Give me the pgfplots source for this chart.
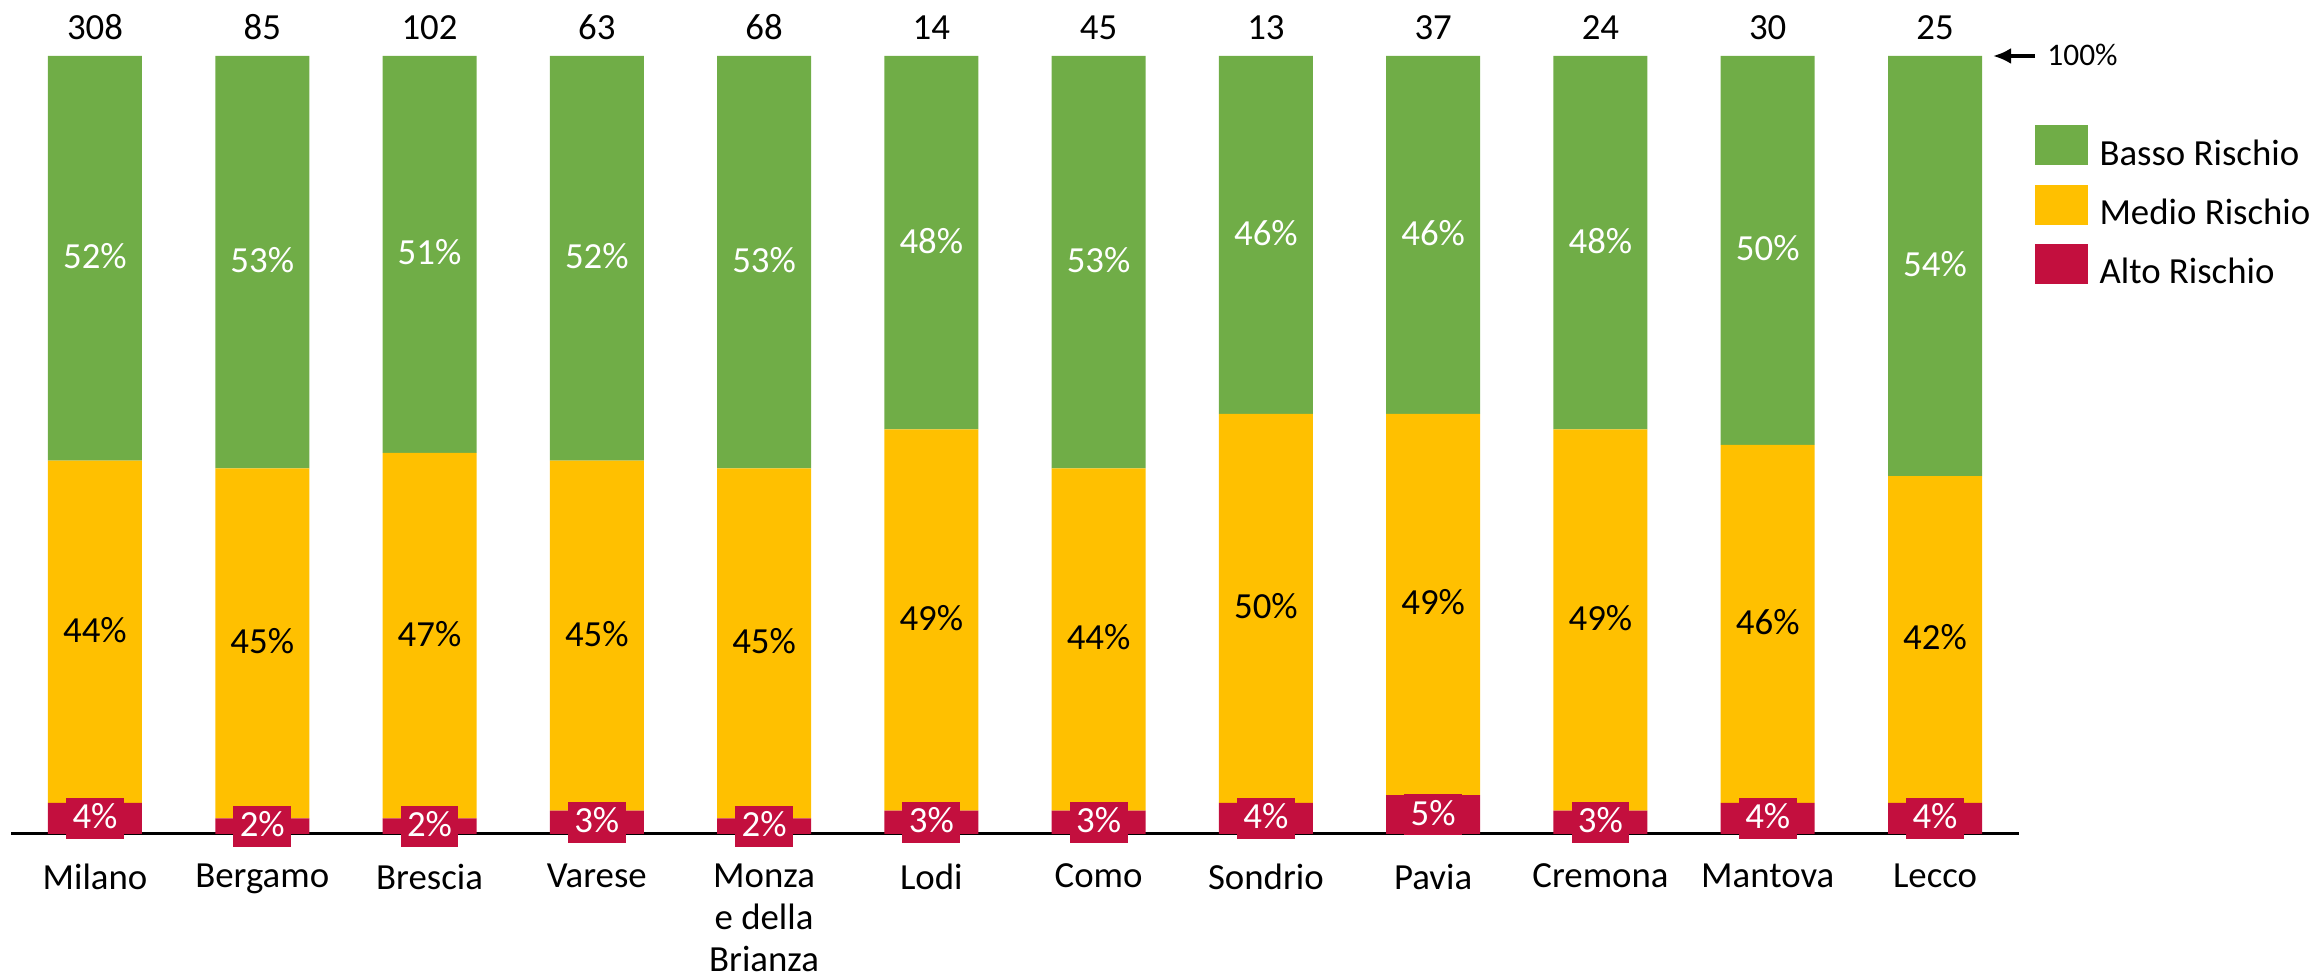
\documentclass[border=0pt]{standalone}
\usepackage{fontspec}
\setmainfont{Carlito}
\usepackage{pgfplots}
\usepackage{pgfplotstable}
\pgfplotsset{compat=1.18}
\usetikzlibrary{arrows.meta}
\definecolor{basso}{HTML}{70AD47}
\definecolor{medio}{HTML}{FFC000}
\definecolor{alto}{HTML}{C30F3E}

\pgfplotstableread{
x alto medio basso n
0 4 44 52 308
1 2 45 53 85
2 2 47 51 102
3 3 45 52 63
4 2 45 53 68
5 3 49 48 14
6 3 44 53 45
7 4 50 46 13
8 5 49 46 37
9 3 49 48 24
10 4 46 50 30
11 4 42 54 25
}\datatable

\tikzset{
  lab/.style={inner xsep=3.2pt, inner ysep=3pt, text height=12.5pt, text depth=2pt, font=\fontsize{18.4}{21}\selectfont},
  cnt/.style={anchor=base, yshift=8pt, inner sep=0pt, font=\fontsize{18.4}{21}\selectfont},
}

\begin{document}
\begin{tikzpicture}[font=\fontsize{18.4}{21}\selectfont]
\useasboundingbox (0,0) rectangle (1158pt,486.5pt);
\begin{axis}[
  at={(5.675pt,69.5pt)}, anchor=south west,
  scale only axis, width=1003.65pt, height=389pt,
  ybar stacked, bar width=47pt,
  xmin=-0.5, xmax=11.5, ymin=0, ymax=100,
  axis line style={draw=none}, major tick length=0pt, ytick=\empty,
  xtick={0,...,11},
  xticklabels={Milano,Bergamo,Brescia,Varese,{Monza\\e della\\Brianza},Lodi,Como,Sondrio,Pavia,Cremona,Mantova,Lecco},
  xticklabel style={anchor=north, align=center, inner sep=0pt, yshift=-14.8pt, font=\fontsize{18.4}{21}\selectfont},
  clip=false,
  reverse legend,
  legend image code/.code={\fill[#1] (0pt,-4.4pt) rectangle (26.5pt,15.6pt);},
  legend style={at={(1.0077,0.9113)}, anchor=north west, draw=none, fill=none,
    inner sep=0pt, row sep=5.5pt, column sep=6pt, cells={anchor=west},
    nodes={inner sep=0pt, text height=13pt, text depth=4pt, font=\fontsize{18.4}{21}\selectfont}},
]
\addplot[fill=alto, draw=none] table[x=x,y=alto]{\datatable};
\addlegendentry{Alto Rischio}
\addplot[fill=medio, draw=none] table[x=x,y=medio]{\datatable};
\addlegendentry{Medio Rischio}
\addplot[fill=basso, draw=none] table[x=x,y=basso]{\datatable};
\addlegendentry{Basso Rischio}

\draw[line width=1.5pt] (axis cs:-0.5,0) -- (axis cs:11.5,0);

\pgfplotsforeachungrouped \i in {0,...,11}{%
  \pgfplotstablegetelem{\i}{alto}\of\datatable \let\va\pgfplotsretval
  \pgfplotstablegetelem{\i}{medio}\of\datatable \let\vm\pgfplotsretval
  \pgfplotstablegetelem{\i}{basso}\of\datatable \let\vb\pgfplotsretval
  \pgfmathsetmacro\ya{\va/2}%
  \pgfmathsetmacro\ym{\va+\vm/2}%
  \pgfmathsetmacro\yb{\va+\vm+\vb/2}%
  \edef\temp{%
    \noexpand\coordinate (pa\i) at (axis cs:\i,\ya);
    \noexpand\coordinate (pm\i) at (axis cs:\i,\ym);
    \noexpand\coordinate (pb\i) at (axis cs:\i,\yb);
    \noexpand\coordinate (pc\i) at (axis cs:\i,100);
  }\temp
}
\end{axis}
\foreach \i in {0,...,11}{
  \pgfplotstablegetelem{\i}{alto}\of\datatable \let\va\pgfplotsretval
  \pgfplotstablegetelem{\i}{medio}\of\datatable \let\vm\pgfplotsretval
  \pgfplotstablegetelem{\i}{basso}\of\datatable \let\vb\pgfplotsretval
  \pgfplotstablegetelem{\i}{n}\of\datatable \let\vn\pgfplotsretval
  \node[lab, fill=alto, text=white] at (pa\i) {\va\%};
  \node[lab, text=black] at (pm\i) {\vm\%};
  \node[lab, text=white] at (pb\i) {\vb\%};
  \node[cnt] at (pc\i) {\vn};
}
\draw[line width=2pt, -{Latex[length=9pt,width=8pt]}] (1017.5pt,458.5pt) -- (996.5pt,458.5pt);
\node[anchor=base west, inner sep=0pt, font=\fontsize{15.7}{18}\selectfont] at (1023.5pt,453.75pt) {100\%};
\end{tikzpicture}
\end{document}
